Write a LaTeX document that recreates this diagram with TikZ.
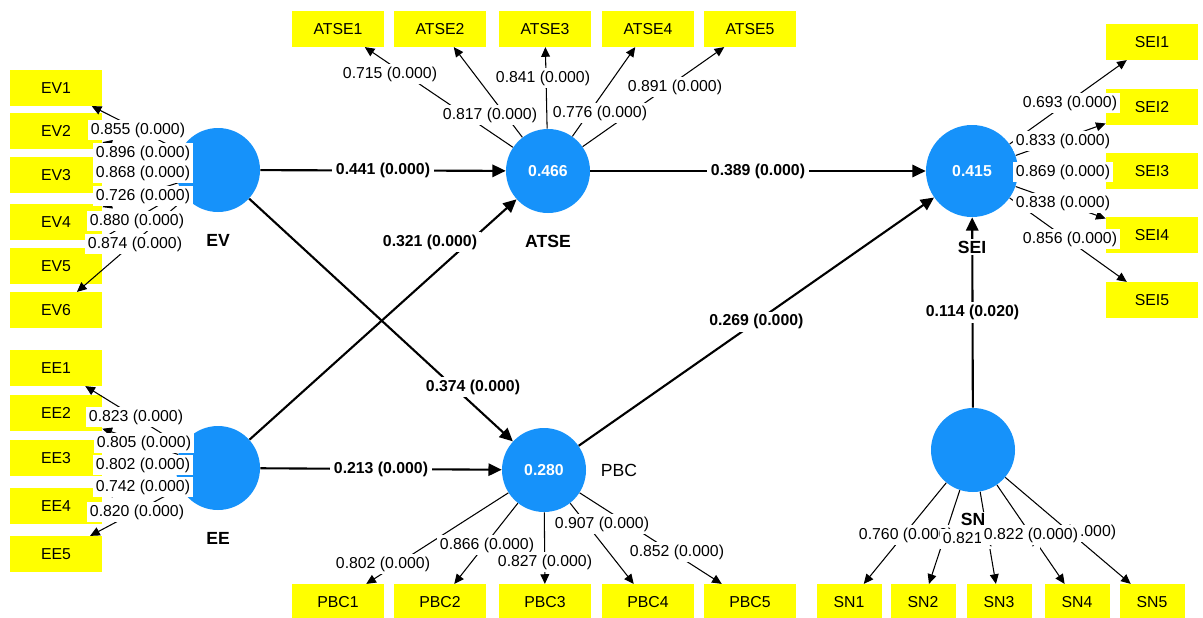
\documentclass[tikz,border=0pt]{standalone}
\usepackage{fontspec}
\setmainfont{Liberation Sans}
\usetikzlibrary{arrows.meta,positioning}

\definecolor{lvblue}{RGB}{22,146,250}
\definecolor{mvyellow}{RGB}{255,255,0}

\begin{document}
\begin{tikzpicture}[
    x=0.2mm, y=-0.2mm,
    latent/.style={circle, fill=lvblue, text=white, minimum size=16.8mm, inner sep=0pt, font=\fontsize{9}{10}\selectfont\bfseries},
    indicator/.style={rectangle, fill=mvyellow, minimum width=18.4mm, minimum height=7.1mm, inner sep=0pt, font=\fontsize{9}{10}\selectfont},
    lvname/.style={fill=white, inner sep=1pt, font=\fontsize{10}{11}\selectfont\bfseries},
    loadarrow/.style={line width=0.6pt, -{Triangle[length=5.5pt,width=5pt]}},
    patharrow/.style={line width=1.2pt, -{Triangle[length=7.5pt,width=7pt]}},
    loadlbl/.style={fill=white, inner xsep=1.5pt, inner ysep=1.5pt, font=\fontsize{9}{10}\selectfont},
    pathlbl/.style={fill=white, inner xsep=2pt, inner ysep=1.5pt, font=\fontsize{9}{10}\selectfont\bfseries}
]
\fill[white] (0,0) rectangle (1203,617);
\useasboundingbox (0,0) rectangle (1203,617);

% Latent variables
\node[latent] (EV) at (218,170) {};
\node[latent] (EE) at (218,468) {};
\node[latent] (ATSE) at (548,171) {0.466};
\node[latent] (PBC) at (544,470) {0.280};
\node[latent, minimum size=18.4mm] (SEI) at (972,171) {0.415};
\node[latent] (SN) at (973,450) {};

% Indicators
\foreach \i/\y in {1/88,2/131,3/175,4/222,5/266,6/310}
    \node[indicator] (EV\i) at (56,\y) {EV\i};
\foreach \i/\y in {1/368,2/413,3/458,4/506,5/554}
    \node[indicator] (EE\i) at (56,\y) {EE\i};
\foreach \i/\x in {1/338,2/440,3/545,4/648,5/750} {
    \node[indicator] (ATSE\i) at (\x,29) {ATSE\i};
    \node[indicator] (PBC\i) at (\x,602) {PBC\i};
}
\foreach \i/\y in {1/42,2/107,3/171,4/235,5/300}
    \node[indicator] (SEI\i) at (1152,\y) {SEI\i};
\foreach \i/\x in {1/849,2/923,3/999,4/1077,5/1152}
    \node[indicator, minimum width=13mm] (SN\i) at (\x,602) {SN\i};

% Outer loadings
\foreach \i in {1,...,6} \draw[loadarrow] (EV) -- (EV\i);
\foreach \i in {1,...,5} {
    \draw[loadarrow] (EE) -- (EE\i);
    \draw[loadarrow] (ATSE) -- (ATSE\i);
    \draw[loadarrow] (PBC) -- (PBC\i);
    \draw[loadarrow] (SEI) -- (SEI\i);
    \draw[loadarrow] (SN) -- (SN\i);
}

% Inner model
\draw[patharrow] (EV) -- node[pathlbl] {0.441 (0.000)} (ATSE);
\draw[patharrow] (EV) -- (PBC);
\draw[patharrow] (EE) -- (ATSE);
\draw[patharrow] (EE) -- node[pathlbl] {0.213 (0.000)} (PBC);
\draw[patharrow] (ATSE) -- node[pathlbl] {0.389 (0.000)} (SEI);
\draw[patharrow] (PBC) -- node[pathlbl] {0.269 (0.000)} (SEI);
\draw[patharrow] (SN) -- node[pathlbl] {0.114 (0.020)} (SEI);
\node[pathlbl] (p374) at (473,387) {0.374 (0.000)};
\node[pathlbl] (p321) at (430,242) {0.321 (0.000)};

% Names of the constructs
\node[lvname, below=4mm of EV] (nEV) {EV};
\node[lvname, below=4mm of EE] (nEE) {EE};
\node[lvname, below=4mm of ATSE] (nATSE) {ATSE};
\node[lvname, right=2.5mm of PBC, font=\fontsize{10}{11}\selectfont] (nPBC) {PBC};
\node[lvname, below=4.3mm of SEI] (nSEI) {SEI};
\node[lvname, below=3.8mm of SN] (nSN) {SN};

% Loading values
\node[loadlbl] at (138,130) {0.855 (0.000)};
\node[loadlbl] at (143,153) {0.896 (0.000)};
\node[loadlbl] at (143,173) {0.868 (0.000)};
\node[loadlbl] at (143,196) {0.726 (0.000)};
\node[loadlbl] at (137,221) {0.880 (0.000)};
\node[loadlbl] at (135,244) {0.874 (0.000)};

\node[loadlbl] at (136,417) {0.823 (0.000)};
\node[loadlbl] at (144,443) {0.805 (0.000)};
\node[loadlbl] at (143,465) {0.802 (0.000)};
\node[loadlbl] at (143,487) {0.742 (0.000)};
\node[loadlbl] at (137,512) {0.820 (0.000)};

\node[loadlbl] at (390,74) {0.715 (0.000)};
\node[loadlbl] at (490,115) {0.817 (0.000)};
\node[loadlbl] at (543,78) {0.841 (0.000)};
\node[loadlbl] at (600,113) {0.776 (0.000)};
\node[loadlbl] at (675,87) {0.891 (0.000)};

\node[loadlbl] at (1070,103) {0.693 (0.000)};
\node[loadlbl] at (1063,141) {0.833 (0.000)};
\node[loadlbl] at (1063,172) {0.869 (0.000)};
\node[loadlbl] at (1063,203) {0.838 (0.000)};
\node[loadlbl] at (1070,239) {0.856 (0.000)};

\node[loadlbl] at (383,564) {0.802 (0.000)};
\node[loadlbl] at (487,545) {0.866 (0.000)};
\node[loadlbl] at (602,524) {0.907 (0.000)};
\node[loadlbl] at (677,552) {0.852 (0.000)};
\node[loadlbl] at (545,562) {0.827 (0.000)};

\node[loadlbl] at (906,535) {0.760 (0.000)};
\node[loadlbl] at (990,539) {0.821 (0.000)};
\node[loadlbl] at (1091,532) {(0.000)};
\node[loadlbl] at (1031,535) {0.822 (0.000)};

\end{tikzpicture}
\end{document}
